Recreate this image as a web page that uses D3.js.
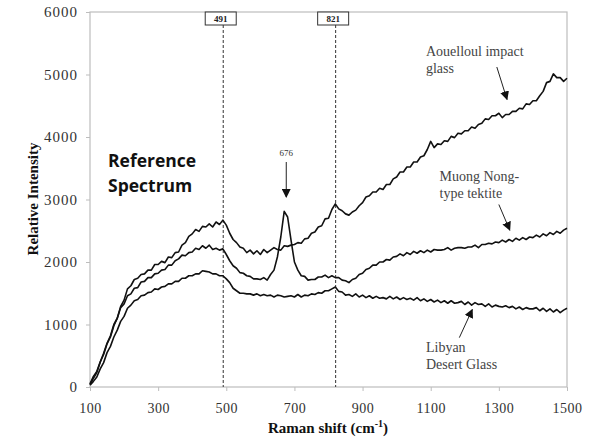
<!DOCTYPE html>
<html><head><meta charset="utf-8">
<script src="https://cdn.jsdelivr.net/npm/d3@7"></script>
<style>body{margin:0;background:#fff;} svg{display:block;} .serif{font-family:"Liberation Serif","Times New Roman","DejaVu Serif",serif;}</style>
</head><body><svg id="c" width="598" height="439"></svg>
<script>
const ramanShift = [100,110,120,130,140,150,160,170,180,190,200,210,220,230,240,250,260,270,280,290,300,310,320,330,340,350,360,370,380,390,400,410,420,430,440,450,460,470,480,490,500,510,520,530,540,550,560,570,580,590,600,610,620,630,640,650,660,670,680,690,700,710,720,730,740,750,760,770,780,790,800,810,820,830,840,850,860,870,880,890,900,910,920,930,940,950,960,970,980,990,1000,1010,1020,1030,1040,1050,1060,1070,1080,1090,1100,1110,1120,1130,1140,1150,1160,1170,1180,1190,1200,1210,1220,1230,1240,1250,1260,1270,1280,1290,1300,1310,1320,1330,1340,1350,1360,1370,1380,1390,1400,1410,1420,1430,1440,1450,1460,1470,1480,1490,1500];

const aouelloul = [50,170,250,400,540,700,820,1000,1100,1290,1390,
  1570,1620,1720,1740,1800,1810,1870,1870,1960,1960,
  2010,1990,2080,2070,2150,2160,2270,2310,2410,2450,
  2520,2490,2570,2560,2610,2560,2640,2600,2670,2590,
  2460,2360,2310,2240,2220,2150,2190,2130,2180,2120,
  2200,2150,2190,2230,2200,2190,2260,2250,2270,2280,
  2310,2300,2370,2380,2460,2480,2560,2580,2690,2700,
  2840,2930,2850,2820,2770,2750,2800,2830,2900,2950,
  3040,3060,3120,3120,3180,3160,3240,3240,3330,3360,
  3440,3440,3520,3520,3600,3600,3680,3700,3800,3930,
  3830,3890,3880,3940,3930,4010,3990,4060,4050,4100,
  4100,4160,4140,4200,4220,4290,4280,4340,4340,4380,
  4310,4360,4360,4410,4410,4460,4450,4530,4520,4580,
  4580,4660,4730,4870,4890,5010,4950,4950,4890,4940];

const muongNong = [40,140,230,400,520,690,800,980,1100,1270,1330,
  1460,1490,1580,1590,1680,1690,1750,1750,1810,1820,
  1870,1880,1950,1950,2020,2050,2110,2100,2150,2160,
  2220,2200,2260,2220,2270,2200,2220,2190,2210,2120,
  2020,1940,1900,1830,1820,1780,1770,1730,1730,1720,
  1750,1710,1800,1870,2080,2400,2810,2720,2350,2000,
  1870,1780,1770,1710,1720,1720,1760,1760,1790,1750,
  1780,1750,1750,1710,1700,1670,1720,1740,1800,1820,
  1880,1900,1950,1950,2000,2000,2040,2030,2080,2090,
  2130,2100,2150,2120,2170,2140,2180,2150,2190,2160,
  2200,2190,2190,2200,2230,2190,2220,2230,2230,2220,
  2240,2240,2270,2230,2280,2280,2300,2290,2320,2310,
  2350,2320,2360,2330,2380,2350,2390,2360,2400,2390,
  2430,2400,2450,2420,2470,2440,2490,2460,2510,2540];

const libyanGlass = [30,90,160,290,390,550,650,800,910,1050,1130,
  1260,1310,1380,1400,1460,1470,1510,1520,1570,1560,
  1600,1610,1650,1650,1690,1690,1740,1740,1780,1780,
  1810,1810,1860,1850,1840,1810,1810,1780,1780,1730,
  1670,1580,1540,1500,1500,1490,1490,1470,1490,1460,
  1480,1460,1470,1440,1470,1460,1440,1450,1460,1440,
  1480,1440,1470,1460,1490,1480,1510,1500,1540,1540,
  1570,1600,1530,1520,1470,1480,1450,1490,1440,1470,
  1430,1460,1420,1450,1420,1430,1410,1450,1410,1440,
  1400,1430,1400,1420,1390,1430,1380,1410,1370,1400,
  1360,1390,1350,1380,1340,1380,1340,1350,1370,1320,
  1360,1310,1350,1320,1330,1290,1330,1280,1310,1290,
  1280,1300,1270,1290,1250,1280,1240,1270,1250,1250,
  1270,1220,1260,1210,1250,1200,1240,1190,1230,1260];

const xTicks = [100,300,500,700,900,1100,1300,1500];
const yTicks = [0,1000,2000,3000,4000,5000,6000];
const markerLines = [491, 821];
const peakPosition = 676;

const svg = d3.select('#c');
const x = d3.scaleLinear().domain([100,1500]).range([90,567]);
const y = d3.scaleLinear().domain([0,6000]).range([387,12]);

// frame
svg.append('rect').attr('x',x(100)).attr('y',y(6000))
  .attr('width',x(1500)-x(100)).attr('height',y(0)-y(6000))
  .attr('fill','none').attr('stroke','#bdbdbd').attr('stroke-width',1.2);

// axes
const ya = svg.append('g').attr('transform',`translate(${x(100)},0)`)
  .call(d3.axisLeft(y).tickValues(yTicks).tickSize(4).tickPadding(8).tickFormat(d3.format('d')));
ya.select('.domain').remove();
ya.selectAll('line').attr('stroke','#bdbdbd');
ya.selectAll('text').attr('class','serif').attr('font-family',null).attr('font-size',15).attr('fill','#333').attr('letter-spacing',1);
ya.attr('font-family',null);

const xa = svg.append('g').attr('transform',`translate(0,${y(0)})`)
  .call(d3.axisBottom(x).tickValues(xTicks).tickSize(4).tickPadding(12).tickFormat(d3.format('d')));
xa.select('.domain').remove();
xa.selectAll('line').attr('stroke','#bdbdbd');
xa.selectAll('text').attr('class','serif').attr('font-size',14).attr('fill','#333').attr('letter-spacing',0.5);
xa.attr('font-family',null);

// axis titles
const xt = svg.append('text').attr('class','serif').attr('x',328).attr('y',433).attr('text-anchor','middle')
  .attr('font-size',15).attr('font-weight','bold').attr('fill','#111');
xt.append('tspan').text('Raman shift (cm');
xt.append('tspan').attr('font-size',10).attr('dy',-6).text('-1');
xt.append('tspan').attr('dy',6).text(')');

svg.append('text').attr('class','serif').attr('transform','translate(38,199) rotate(-90)').attr('text-anchor','middle')
  .attr('font-size',15).attr('font-weight','bold').attr('fill','#111')
  .text('Relative Intensity');

// marker dashed lines with boxes
markerLines.forEach(v => {
  const px = x(v);
  svg.append('line').attr('x1',px).attr('x2',px).attr('y1',y(6000)+13).attr('y2',y(0))
    .attr('stroke','#333').attr('stroke-width',1).attr('stroke-dasharray','3,2');
  svg.append('rect').attr('x',px-18).attr('y',y(6000)).attr('width',31).attr('height',13)
    .attr('fill','#fff').attr('stroke','#333').attr('stroke-width',1);
  svg.append('text').attr('class','serif').attr('x',px-2.5).attr('y',y(6000)+10).attr('text-anchor','middle')
    .attr('font-size',9).attr('font-weight','bold').attr('fill','#222')
    .text(v);
});

// spectra
const line = d3.line().x((d,i)=>x(ramanShift[i])).y(d=>y(d));
[aouelloul, muongNong, libyanGlass].forEach(s => {
  svg.append('path').datum(s).attr('d',line).attr('fill','none')
    .attr('stroke','#111').attr('stroke-width',1.6).attr('stroke-linejoin','round');
});

// arrowhead marker
svg.append('defs').append('marker').attr('id','ah').attr('viewBox','0 0 10 10')
  .attr('refX',9).attr('refY',5).attr('markerWidth',9).attr('markerHeight',9)
  .attr('markerUnits','userSpaceOnUse').attr('orient','auto')
  .append('path').attr('d','M0,0 L10,5 L0,10 Z').attr('fill','#111');

function arrow(x1,y1,x2,y2){
  svg.append('line').attr('x1',x(x1)).attr('y1',y(y1)).attr('x2',x(x2)).attr('y2',y(y2))
    .attr('stroke','#222').attr('stroke-width',1).attr('marker-end','url(#ah)');
}

// 676 peak annotation
svg.append('text').attr('class','serif').attr('x',x(peakPosition)).attr('y',y(3700)).attr('text-anchor','middle')
  .attr('font-size',9).attr('fill','#333').text(peakPosition);
arrow(peakPosition,3600,peakPosition,3040);

// labels
function label(lines, wx, wy){
  const t = svg.append('text').attr('class','serif').attr('font-size',14).attr('fill','#444');
  lines.forEach((s,i)=>{
    t.append('tspan').attr('x',x(wx)).attr('y',y(wy)+i*17).text(s);
  });
}
label(['Aouelloul impact','glass'],1086,5300);
arrow(1294,5120,1324,4600);
label(['Muong Nong-','type tektite'],1126,3290);
arrow(1300,2920,1332,2510);
label(['Libyan','Desert Glass'],1086,560);
arrow(1184,790,1222,1240);

// Reference Spectrum
const rs = svg.append('text').style('font-family','"Open Sans","Noto Sans",sans-serif')
  .attr('font-size',17.5).attr('font-weight','bold').attr('fill','#111');
rs.append('tspan').attr('x',108).attr('y',167).text('Reference');
rs.append('tspan').attr('x',108).attr('y',192).text('Spectrum');
</script></body></html>
